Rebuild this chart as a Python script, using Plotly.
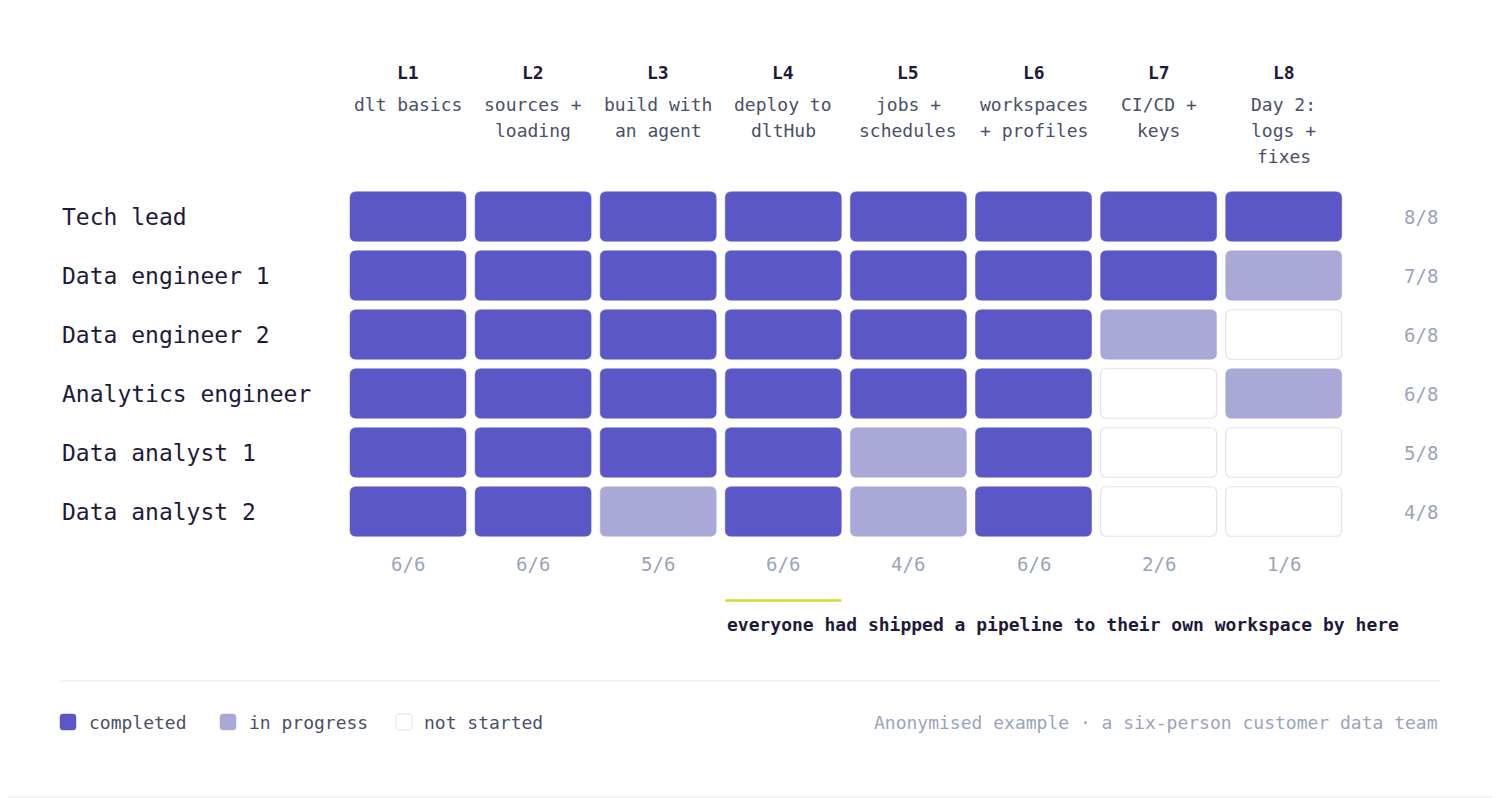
import plotly.graph_objects as go

# data
lessons = ["L1", "L2", "L3", "L4", "L5", "L6", "L7", "L8"]
lesson_titles = [
    ["dlt basics"],
    ["sources +", "loading"],
    ["build with", "an agent"],
    ["deploy to", "dltHub"],
    ["jobs +", "schedules"],
    ["workspaces", "+ profiles"],
    ["CI/CD +", "keys"],
    ["Day 2:", "logs +", "fixes"],
]
people = ["Tech lead", "Data engineer 1", "Data engineer 2",
          "Analytics engineer", "Data analyst 1", "Data analyst 2"]
# 2 = completed, 1 = in progress, 0 = not started
tech_lead = [2, 2, 2, 2, 2, 2, 2, 2]
data_eng_1 = [2, 2, 2, 2, 2, 2, 2, 1]
data_eng_2 = [2, 2, 2, 2, 2, 2, 1, 0]
analytics_eng = [2, 2, 2, 2, 2, 2, 0, 1]
data_analyst_1 = [2, 2, 2, 2, 1, 2, 0, 0]
data_analyst_2 = [2, 2, 1, 2, 1, 2, 0, 0]
status = [tech_lead, data_eng_1, data_eng_2, analytics_eng, data_analyst_1, data_analyst_2]
status_names = {2: "completed", 1: "in progress", 0: "not started"}
milestone_col = 3
milestone_text = "everyone had shipped a pipeline to their own workspace by here"
footnote = "Anonymised example · a six-person customer data team"

# look
W, H = 1500, 798
OFF = 8  # page body margin, screen px -> figure px
FONT = "DejaVu Sans Mono"
INK = "#1E1B3A"
SUB = "#4A5068"
MUTED = "#9BA3BC"
FILL = {2: "#5B57C6", 1: "#AAA8D6", 0: "#FFFFFF"}
EDGE = {2: "#5B57C6", 1: "#AAA8D6", 0: "#E1E3E9"}

# pixel grid -> data axes (col pitch 125.1px, row pitch 59px)
X0, XP = 408 - OFF, 125.1
Y0, YP = 216.5 - OFF, 59
hw, hh = 58 / XP, 24.75 / YP
rx, ry = 6 / XP, 6 / YP


def px(p):
    return (p - OFF) / W


def py(p):
    return 1 - (p - OFF) / H


def rrect(x0, x1, y0, y1, rx, ry):
    # rounded rectangle path, y0 < y1 in the coordinate system used
    return (f"M{x0 + rx},{y0} L{x1 - rx},{y0} Q{x1},{y0} {x1},{y0 + ry} "
            f"L{x1},{y1 - ry} Q{x1},{y1} {x1 - rx},{y1} L{x0 + rx},{y1} "
            f"Q{x0},{y1} {x0},{y1 - ry} L{x0},{y0 + ry} Q{x0},{y0} {x0 + rx},{y0} Z")


shapes = []
annotations = []
hx, hy, htext = [], [], []

for r, row in enumerate(status):
    for c, s in enumerate(row):
        shapes.append(dict(
            type="path", xref="x", yref="y",
            path=rrect(c - hw, c + hw, r - hh, r + hh, rx, ry),
            fillcolor=FILL[s], line=dict(color=EDGE[s], width=1.2 if s == 0 else 0.5),
            layer="below"))
        hx.append(c)
        hy.append(r)
        htext.append(f"{people[r]} · {lessons[c]}: {status_names[s]}")

# column headers
for c, (lab, title) in enumerate(zip(lessons, lesson_titles)):
    annotations.append(dict(x=c, xref="x", y=py(72), yref="paper", text=f"<b>{lab}</b>",
                            showarrow=False, xanchor="center", yanchor="middle",
                            font=dict(family=FONT, size=18, color=INK)))
    for k, line in enumerate(title):
        annotations.append(dict(x=c, xref="x", y=py(104 + 26.5 * k), yref="paper", text=line,
                                showarrow=False, xanchor="center", yanchor="middle",
                                font=dict(family=FONT, size=18, color=SUB)))
    done = sum(1 for row in status if row[c] == 2)
    annotations.append(dict(x=c, xref="x", y=py(564), yref="paper", text=f"{done}/{len(status)}",
                            showarrow=False, xanchor="center", yanchor="middle",
                            font=dict(family=FONT, size=19, color=MUTED)))

# row labels and totals
for r, (name, row) in enumerate(zip(people, status)):
    annotations.append(dict(x=px(60), xref="paper", y=r, yref="y", text=name,
                            showarrow=False, xanchor="left", yanchor="middle",
                            font=dict(family=FONT, size=23, color=INK)))
    done = sum(1 for s in row if s == 2)
    annotations.append(dict(x=px(1440), xref="paper", y=r, yref="y", text=f"{done}/{len(row)}",
                            showarrow=False, xanchor="right", yanchor="middle",
                            font=dict(family=FONT, size=19, color=MUTED)))

# milestone marker
shapes.append(dict(type="line", xref="x", yref="paper",
                   x0=milestone_col - hw, x1=milestone_col + hw, y0=py(600.5), y1=py(600.5),
                   line=dict(color="#D2DA2B", width=2.5)))
annotations.append(dict(x=milestone_col - hw, xref="x", y=py(624), yref="paper",
                        text=f"<b>{milestone_text}</b>", showarrow=False,
                        xanchor="left", yanchor="middle",
                        font=dict(family=FONT, size=18, color=INK)))

# divider and bottom rule
shapes.append(dict(type="line", xref="paper", yref="paper", x0=px(60), x1=px(1440),
                   y0=py(681), y1=py(681), line=dict(color="#E5E7EB", width=1.2)))
shapes.append(dict(type="line", xref="paper", yref="paper", x0=0, x1=1,
                   y0=py(797), y1=py(797), line=dict(color="#E5E7EB", width=1.2)))

# legend
legend_items = [(2, 60, 87), (1, 220, 247), (0, 396, 422)]
for s, sx, tx in legend_items:
    shapes.append(dict(type="path", xref="paper", yref="paper",
                       path=rrect(px(sx), px(sx + 16), py(730), py(714), 3 / W, 3 / H),
                       fillcolor=FILL[s], line=dict(color=EDGE[s], width=1 if s == 0 else 0.5)))
    annotations.append(dict(x=px(tx), xref="paper", y=py(722), yref="paper", text=status_names[s],
                            showarrow=False, xanchor="left", yanchor="middle",
                            font=dict(family=FONT, size=18, color=SUB)))
annotations.append(dict(x=px(1440), xref="paper", y=py(722), yref="paper", text=footnote,
                        showarrow=False, xanchor="right", yanchor="middle",
                        font=dict(family=FONT, size=18, color=MUTED)))

# invisible points for hover
hover_trace = go.Scatter(x=hx, y=hy, mode="markers", text=htext, hoverinfo="text",
                         marker=dict(size=40, symbol="square", opacity=0), showlegend=False)

fig = go.Figure(data=[hover_trace])
fig.update_layout(
    width=W, height=H,
    margin=dict(l=0, r=0, t=0, b=0),
    paper_bgcolor="white", plot_bgcolor="white",
    showlegend=False,
    shapes=shapes, annotations=annotations,
    xaxis=dict(range=[-X0 / XP, (W - X0) / XP], visible=False, fixedrange=True),
    yaxis=dict(range=[(H - Y0) / YP, -Y0 / YP], visible=False, fixedrange=True),
    hovermode="closest",
)

fig.write_html("out.html")
